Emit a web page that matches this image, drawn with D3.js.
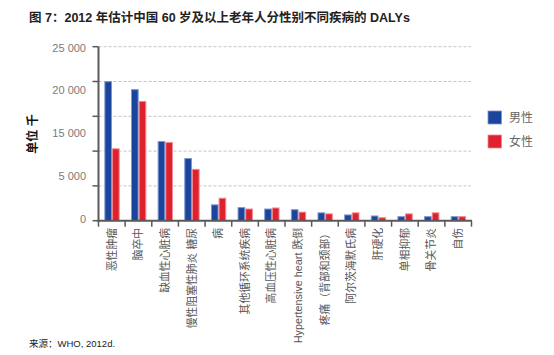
<!DOCTYPE html>
<html><head><meta charset="utf-8">
<script src="https://cdn.jsdelivr.net/npm/d3@7/dist/d3.min.js"></script>
<style>
html,body{margin:0;padding:0;background:#fff;}
svg{display:block;font-family:"Liberation Sans",Arial,"Noto Sans CJK SC",sans-serif;}
</style></head>
<body><svg id="c" width="554" height="355"></svg>
<script>
const categories = ["恶性肿瘤","脑卒中","缺血性心脏病","慢性阻塞性肺炎 糖尿","病","其他循环系统疾病","高血压性心脏病","Hypertensive heart 跌倒","疼痛（背部和颈部）","阿尔茨海默氏病","肝硬化","单相抑郁","骨关节炎","自伤"];
const series = ["男性","女性"];
const male =   [20050, 18900, 11450, 9000, 2350, 1950, 1750, 1650, 1200, 900, 750, 650, 650, 650];
const female = [10400, 17200, 11300, 7450, 3300, 1750, 1900, 1300, 1050, 1200, 500, 1050, 1200, 650];
const gridValues = [0, 5000, 10000, 15000, 20000, 25000];
const yTickLabels = ["25 000","20 000","15 000","5 000","0"];
const title = "图 7：2012 年估计中国 60 岁及以上老年人分性别不同疾病的 DALYs";
const yTitle = "单位 千";
const source = "来源：WHO, 2012d.";

const colors = {"男性":"#1b459d","女性":"#de212d"};
const strokes = {"男性":"#7d97cf","女性":"#ef8a92"};

const svg = d3.select("#c");
const L = 98.5, R = 471.5, T = 46.7, B = 220.7;

const x0 = d3.scaleBand().domain(categories).range([L, R]);
const bw = x0.bandwidth();
const x1 = d3.scaleBand().domain(series).range([bw*0.22, bw*0.795]);
const y = d3.scaleLinear().domain([0, 25000]).range([B, T]);
const yl = d3.scalePoint().domain(yTickLabels).range([y(25000)+1, y(0)-1.4]);

// grid
svg.append("g").selectAll("line").data(gridValues.filter(v=>v>0)).join("line")
  .attr("x1", L).attr("x2", 471).attr("y1", d=>y(d)).attr("y2", d=>y(d))
  .attr("stroke", "#c4c4c4").attr("stroke-width", 1).attr("stroke-dasharray", "3,2");

// bars
const data = categories.map((c,i)=>({c, vals:[{s:"男性",v:male[i]},{s:"女性",v:female[i]}]}));
const g = svg.append("g").selectAll("g").data(data).join("g")
  .attr("transform", d=>`translate(${x0(d.c)},0)`);
g.selectAll("rect").data(d=>d.vals).join("rect")
  .attr("x", d=>x1(d.s)+0.5).attr("width", x1.bandwidth()-1)
  .attr("y", d=>y(d.v)+0.5).attr("height", d=>B - y(d.v)-0.5)
  .attr("fill", d=>colors[d.s]).attr("stroke", d=>strokes[d.s]).attr("stroke-width", 1);

// y axis
const axc = "#5a5a5a";
svg.append("line").attr("x1", L).attr("x2", L).attr("y1", T).attr("y2", B+1).attr("stroke", axc).attr("stroke-width", 2);
svg.append("g").selectAll("line").data(gridValues).join("line")
  .attr("x1", L-6).attr("x2", L).attr("y1", d=>y(d)).attr("y2", d=>y(d))
  .attr("stroke", axc).attr("stroke-width", 1.5);
svg.append("g").selectAll("text").data(yTickLabels).join("text")
  .attr("x", 86).attr("y", d=>yl(d)).attr("dy", "0.35em").attr("text-anchor", "end")
  .attr("font-size", 11).attr("fill", "#7a7a7a").text(d=>d);

// x axis
svg.append("line").attr("x1", L-1).attr("x2", R+0.5).attr("y1", B).attr("y2", B).attr("stroke", axc).attr("stroke-width", 2);
const xt = categories.map(c=>x0(c)).concat([R]);
svg.append("g").selectAll("line").data(xt).join("line")
  .attr("x1", d=>d).attr("x2", d=>d).attr("y1", B).attr("y2", B+6)
  .attr("stroke", axc).attr("stroke-width", 1.5);
svg.append("g").selectAll("text").data(categories).join("text")
  .attr("transform", d=>`translate(${x0(d)+bw/2},228) rotate(-90)`)
  .attr("text-anchor", "end").attr("dy", "0.35em")
  .attr("font-size", 10.8).attr("fill", "#555").text(d=>d);

// y title
svg.append("text").attr("transform", "translate(33,134) rotate(-90)")
  .attr("text-anchor", "middle").attr("dy", "0.35em")
  .attr("font-size", 12).attr("font-weight", "bold").attr("fill", "#111").text(yTitle);

// legend
const lg = svg.append("g").selectAll("g").data(series).join("g")
  .attr("transform", (d,i)=>`translate(488,${111 + i*24})`);
lg.append("rect").attr("width", 13.5).attr("height", 13).attr("fill", d=>colors[d]).attr("stroke", d=>strokes[d]).attr("stroke-width", 0.8);
lg.append("text").attr("x", 21).attr("y", 6.5).attr("dy", "0.35em")
  .attr("font-size", 12).attr("fill", "#666").text(d=>d);

// title
svg.append("text").attr("x", 29).attr("y", 22).attr("font-size", 12.5).attr("font-weight", "bold").attr("fill", "#222").text(title);
// source
svg.append("text").attr("x", 29).attr("y", 347).attr("font-size", 9.5).attr("fill", "#222").text(source);
</script></body></html>
